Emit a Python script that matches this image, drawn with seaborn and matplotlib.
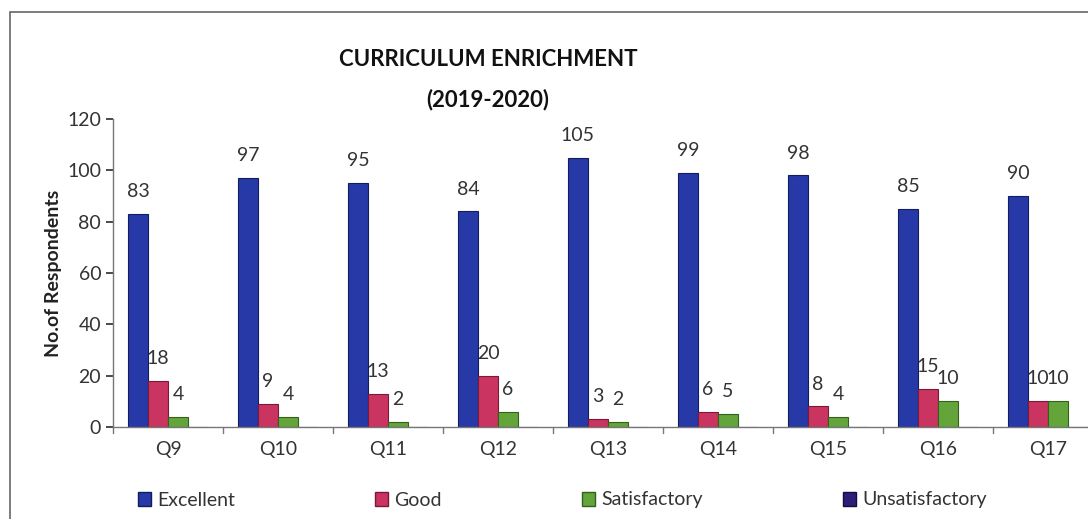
import matplotlib
matplotlib.use("Agg")
import matplotlib.pyplot as plt
import seaborn as sns
import pandas as pd
from matplotlib.patches import Rectangle

categories = ["Q9", "Q10", "Q11", "Q12", "Q13", "Q14", "Q15", "Q16", "Q17"]
excellent = [83, 97, 95, 84, 105, 99, 98, 85, 90]
good = [18, 9, 13, 20, 3, 6, 8, 15, 10]
satisfactory = [4, 4, 2, 6, 2, 5, 4, 10, 10]
unsatisfactory = [0, 0, 0, 0, 0, 0, 0, 0, 0]
series_names = ["Excellent", "Good", "Satisfactory", "Unsatisfactory"]
yticks = [0, 20, 40, 60, 80, 100, 120]

sns.set_theme(style="white")
plt.rcParams['font.family'] = ['Lato', 'DejaVu Sans']

rows = []
for name, vals in zip(series_names, [excellent, good, satisfactory, unsatisfactory]):
    for c, v in zip(categories, vals):
        rows.append({"Question": c, "Rating": name, "Count": v})
df = pd.DataFrame(rows)

palette = {"Excellent": "#2639a6", "Good": "#c93461", "Satisfactory": "#63a53a",
           "Unsatisfactory": "#2b1f78"}
edges = {"Excellent": "#121c5e", "Good": "#7a1a36", "Satisfactory": "#355f1c",
         "Unsatisfactory": "#140e40"}

fig = plt.figure(figsize=(10.88, 5.19), dpi=100)
ax = fig.add_axes([113/1088, 92/519, 990/1088, 308/519])

sns.barplot(data=df, x="Question", y="Count", hue="Rating", order=categories,
            hue_order=series_names, palette=palette, width=0.73, ax=ax,
            legend=False, saturation=1)

for cont, name in zip(ax.containers, series_names):
    for p in cont:
        p.set_edgecolor(edges[name])
        p.set_linewidth(0.8)
    vals = [int(p.get_height()) for p in cont]
    ax.bar_label(cont, labels=[str(v) if v > 0 else "" for v in vals],
                 padding=10, fontsize=14, color="#333333")

ax.set_ylim(0, 120)
ax.set_yticks(yticks)
ax.set_xlim(-0.5, len(categories) - 0.5)
ax.set_xlabel("")
ax.set_ylabel("No.of Respondents", fontsize=14, fontweight="bold", color="#222222")
ax.tick_params(axis="y", labelsize=14, colors="#333333", length=5, direction="out", left=True)
ax.tick_params(axis="x", labelsize=14, colors="#333333", length=0, pad=10)
for x in range(len(categories) + 1):
    ax.plot([x - 0.5, x - 0.5], [0, -2.2], color="#777777", lw=1, clip_on=False)
for s in ["top", "right"]:
    ax.spines[s].set_visible(False)
for s in ["left", "bottom"]:
    ax.spines[s].set_color("#777777")
    ax.spines[s].set_linewidth(1)
ax.grid(False)

fig.text(488/1088, 1 - 60/519, "CURRICULUM ENRICHMENT", ha="center", va="center",
         fontsize=16, fontweight="bold", color="#111111")
fig.text(488/1088, 1 - 100/519, "(2019-2020)", ha="center", va="center",
         fontsize=16, fontweight="bold", color="#111111")

handles = [Rectangle((0, 0), 1, 1, facecolor=palette[n], edgecolor=edges[n]) for n in series_names]
fig.legend(handles, series_names, loc="center left", bbox_to_anchor=(120/1088, 1 - 500/519),
           ncol=4, frameon=False, fontsize=14, handlelength=0.7, handleheight=0.7,
           handletextpad=0.3, columnspacing=7.2, labelcolor="#333333")

fig.add_artist(Rectangle((10/1088, -0.1), 1.2, 1 - 12/519 + 0.1, transform=fig.transFigure,
                         fill=False, edgecolor="#666666", lw=1.2))

fig.savefig("out.png", dpi=100)
